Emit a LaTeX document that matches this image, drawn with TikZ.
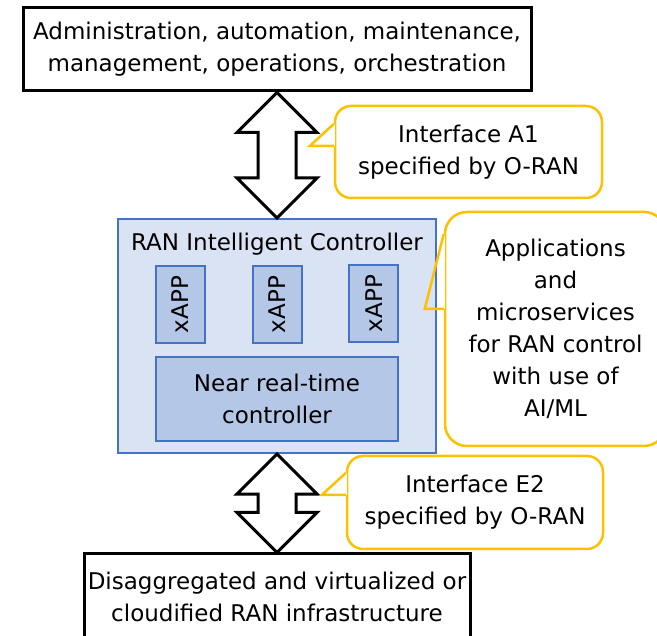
\documentclass[tikz,border=0pt]{standalone}
\usepackage{fontspec}
\setmainfont{DejaVu Sans}
\usetikzlibrary{calc,positioning}

\definecolor{ricfill}{HTML}{DAE3F3}
\definecolor{ricline}{HTML}{4472C4}
\definecolor{appfill}{HTML}{B4C7E7}
\definecolor{noteline}{HTML}{FFC000}

\tikzset{
  blackbox/.style={draw=black,line width=3pt,fill=white,inner sep=0pt,align=center},
  ricbox/.style={draw=ricline,line width=2.2pt,fill=ricfill,inner sep=0pt},
  appbox/.style={draw=ricline,line width=2.2pt,fill=appfill,inner sep=0pt,align=center},
  notebox/.style={draw=noteline,line width=2.5pt,rounded corners=#1,inner sep=0pt,align=center},
  notebox/.default=16pt,
  twoway/.style={draw=black,line width=3pt,fill=white,line join=miter},
  pointer/.style={draw=noteline,line width=2.5pt,line join=miter},
}

% hollow double arrow from #1 (top) down to #2 (bottom)
\newcommand{\twowayarrow}[2]{%
  \draw[twoway] (#1) -- ++(40,40) -- ++(-21,0) |- ($(#2)+(19,-40)$) -- ++(21,0)
    -- (#2) -- ++(-40,-40) -- ++(21,0) |- ($(#1)+(-19,40)$) -- ++(-21,0) -- cycle;}

% pointer of a callout: #1 base top, #2 tip, #3 base bottom
\newcommand{\notepointer}[3]{%
  \fill[white] ($(#1)+(-1.6,0)$) rectangle ($(#3)+(1.6,0)$);
  \draw[pointer] (#1) -- (#2) -- (#3);}

\begin{document}
\begin{tikzpicture}[x=1pt,y=-1pt,font=\fontsize{23pt}{32pt}\selectfont]
	\useasboundingbox (0,0) rectangle (657,636);
	\clip (0,0) rectangle (657,636);

	%boxes
	\node[blackbox,minimum width=508pt,minimum height=83pt] (oam) at (277,49.5)
	  {Administration, automation, maintenance,\\management, operations, orchestration};
	\node[ricbox,minimum width=318pt,minimum height=234pt] (ric) at (277,336) {};
	\node (rictitle) at (277,244) {RAN Intelligent Controller};
	\node[blackbox,minimum width=386pt,minimum height=86pt] (infra) at (277,597)
	  {Disaggregated and virtualized or\\cloudified RAN infrastructure};

	%xAPPs
	\node[appbox,minimum width=49pt,minimum height=77pt] (xapp2) at (277.5,304.5) {\rotatebox{90}{xAPP}};
	\node[appbox,minimum width=49pt,minimum height=77pt,left=46pt of xapp2] (xapp1) {\rotatebox{90}{xAPP}};
	\node[appbox,minimum width=49pt,minimum height=77pt,right=45pt of xapp2,yshift=1pt] (xapp3) {\rotatebox{90}{xAPP}};
	\node[appbox,minimum width=242pt,minimum height=84pt] (nrt) at (277,399) {Near real-time\\controller};

	%interfaces
	\twowayarrow{oam.south}{ric.north}
	\twowayarrow{ric.south}{infra.north}

	%callouts
	\node[notebox,minimum width=267pt,minimum height=92pt] (a1note) at (468.5,152) {Interface A1\\specified by O-RAN};
	\notepointer{$(a1note.west)+(0,-28)$}{$(a1note.west)+(-24,-6)$}{$(a1note.west)+(0,-6)$}

	\node[notebox=22pt,minimum width=221pt,minimum height=234pt] (aimlnote) at (555.5,329)
	  {Applications\\and\\microservices\\for RAN control\\with use of\\AI/ML};
	\notepointer{$(aimlnote.west)+(0,-95)$}{$(aimlnote.west)+(-19,-20)$}{$(aimlnote.west)+(0,-20)$}

	\node[notebox,minimum width=256pt,minimum height=93pt] (e2note) at (475,502.5) {Interface E2\\specified by O-RAN};
	\notepointer{$(e2note.west)+(0,-29.5)$}{$(e2note.west)+(-24,-7.5)$}{$(e2note.west)+(0,-7.5)$}
\end{tikzpicture}
\end{document}
